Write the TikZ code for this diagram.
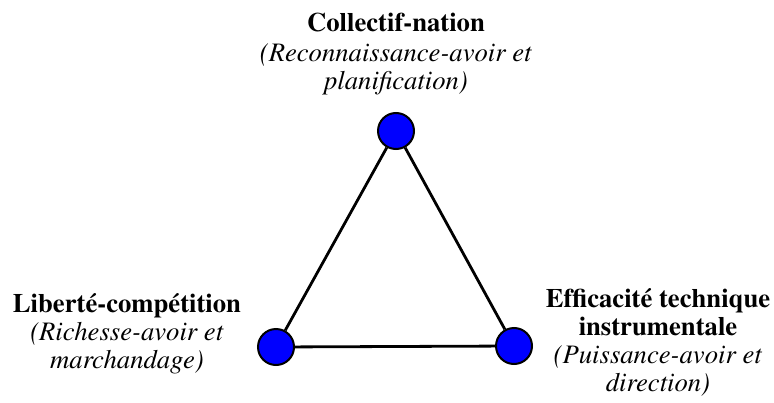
\documentclass[tikz,border=0pt]{standalone}
\usepackage[T1]{fontenc}
\usepackage{times}
\usetikzlibrary{positioning}
\definecolor{PoleBlue}{HTML}{0000FF}

\begin{document}
\begin{tikzpicture}[
  x=0.75pt,y=-0.75pt,
  pole/.style={circle,draw=black,line width=1.5pt,fill=PoleBlue,minimum size=27pt,inner sep=0pt},
  poletext/.style={align=center,inner sep=0pt,font=\fontsize{20}{21}\selectfont}
]
  \useasboundingbox (0,0) rectangle (774,403);
  \node[pole] (nation) at (396,131) {};
  \node[pole] (liberte) at (276,347) {};
  \node[pole] (efficacite) at (514,346) {};
  \foreach \a/\b in {nation/liberte,liberte/efficacite,efficacite/nation}
    \draw[line width=2.1pt] (\a) -- (\b);
  \node[poletext] (nationtext) at (396,54) {\textbf{Collectif-nation}\\[2pt]\textit{(Reconnaissance-avoir et}\\\textit{planification)}};
  \node[poletext] (libertetext) at (127,334) {\textbf{Libert\'e-comp\'etition}\\\textit{(Richesse-avoir et}\\\textit{marchandage)}};
  \node[poletext] (efficacitetext) at (658,342) {\textbf{Efficacit\'e technique}\\\textbf{instrumentale}\\\textit{(Puissance-avoir et}\\\textit{direction)}};
\end{tikzpicture}
\end{document}
